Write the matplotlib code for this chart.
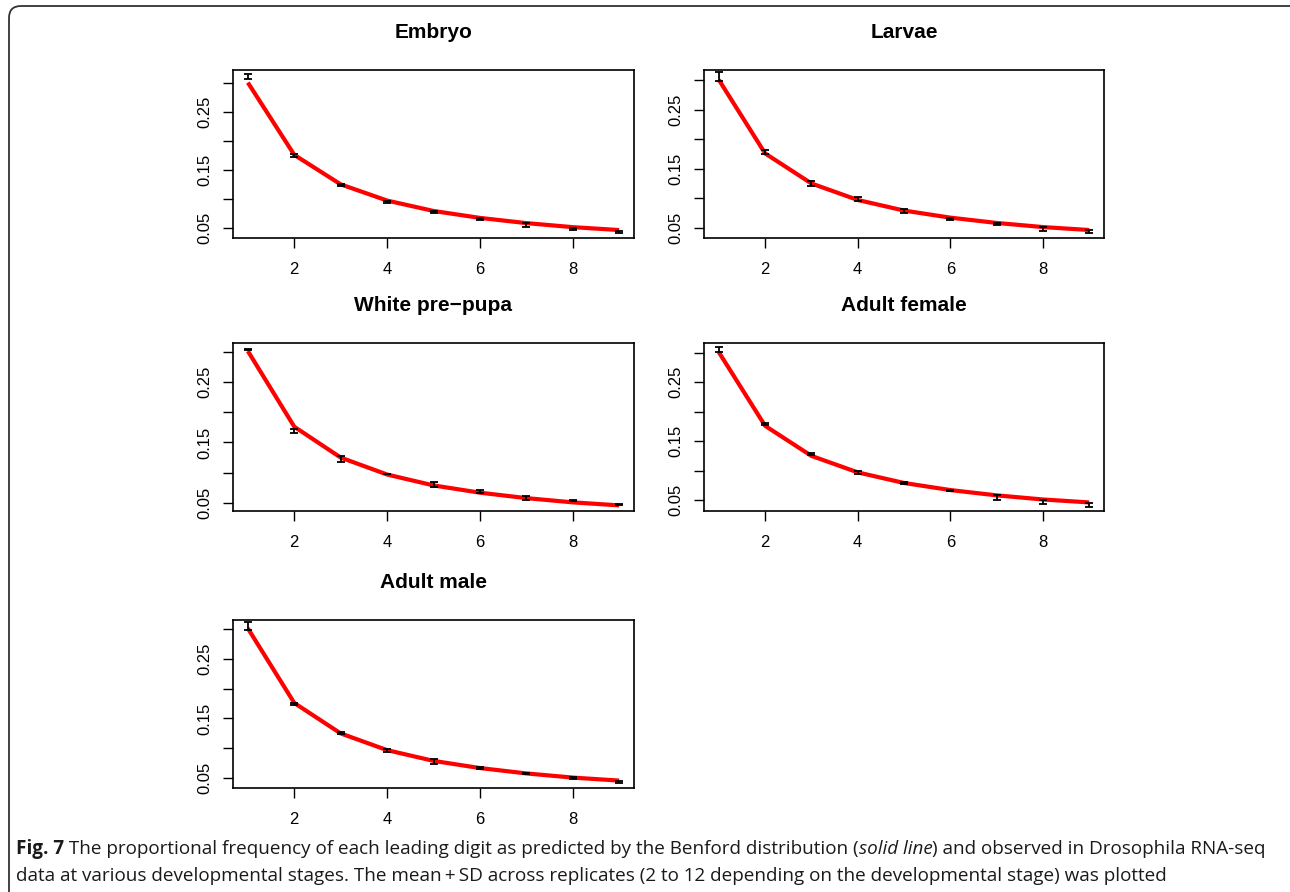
from __future__ import annotations

import matplotlib

matplotlib.use("Agg")
import matplotlib.pyplot as plt
from matplotlib.patches import FancyBboxPatch

W, H = 1290, 892

DIGITS = [1, 2, 3, 4, 5, 6, 7, 8, 9]
BENFORD = [0.301, 0.176, 0.125, 0.097, 0.079, 0.067, 0.058, 0.051, 0.046]

STAGES = ["Embryo", "Larvae", "White pre\u2212pupa", "Adult female", "Adult male"]

EMBRYO_MEAN = [0.312, 0.175, 0.124, 0.095, 0.077, 0.065, 0.055, 0.048, 0.043]
EMBRYO_SD = [0.0045, 0.003, 0.002, 0.002, 0.0018, 0.0018, 0.003, 0.0018, 0.0018]
LARVAE_MEAN = [0.307, 0.178, 0.125, 0.099, 0.078, 0.065, 0.056, 0.048, 0.043]
LARVAE_SD = [0.0075, 0.003, 0.0045, 0.003, 0.0035, 0.002, 0.0022, 0.0035, 0.0022]
PREPUPA_MEAN = [0.304, 0.169, 0.122, 0.098, 0.081, 0.069, 0.058, 0.054, 0.047]
PREPUPA_SD = [0.001, 0.004, 0.005, 0.0006, 0.004, 0.002, 0.003, 0.0015, 0.001]
FEMALE_MEAN = [0.306, 0.179, 0.128, 0.097, 0.079, 0.066, 0.054, 0.047, 0.042]
FEMALE_SD = [0.004, 0.001, 0.0023, 0.0022, 0.0012, 0.0012, 0.004, 0.003, 0.003]
MALE_MEAN = [0.3045, 0.175, 0.125, 0.096, 0.078, 0.067, 0.058, 0.051, 0.044]
MALE_SD = [0.0067, 0.0017, 0.0017, 0.0022, 0.0034, 0.0022, 0.0012, 0.0017, 0.0017]

Y_TICKS = [0.05, 0.10, 0.15, 0.20, 0.25, 0.30]
Y_TICK_LABELS = ["0.05", "", "0.15", "", "0.25", ""]
X_TICKS = [2, 4, 6, 8]

CAPTION_LINE1 = [
    ("Fig. 7", "bold", "normal"),
    (" The proportional frequency of each leading digit as predicted by the Benford distribution (", "normal", "normal"),
    ("solid line", "normal", "italic"),
    (") and observed in Drosophila RNA-seq", "normal", "normal"),
]
CAPTION_LINE2 = [
    ("data at various developmental stages. The mean\u2009+\u2009SD across replicates (2 to 12 depending on the developmental stage) was plotted",
     "normal", "normal"),
]

# panel boxes in pixels: left, top, right, bottom
PANEL_BOXES = [
    (233, 70, 634, 238),
    (704, 70, 1104, 238),
    (233, 343, 634, 511),
    (704, 343, 1104, 511),
    (233, 620, 634, 788),
]

plt.rcParams["font.family"] = ["Liberation Sans", "DejaVu Sans"]


def _px_axes(fig, box):
    left, top, right, bottom = box
    return fig.add_axes([left / W, 1 - bottom / H, (right - left) / W, (bottom - top) / H])


def _draw_panel(ax, title, mean, sd):
    ax.plot(DIGITS, BENFORD, color="red", lw=3.0, zorder=2, solid_capstyle="butt")
    ax.errorbar(DIGITS, mean, yerr=sd, fmt="none", ecolor="black",
                elinewidth=1.3, capsize=2.6, capthick=1.3, zorder=3)
    lo, hi = min(mean), max(mean)
    ext = 0.04 * (hi - lo)
    ax.set_ylim(lo - ext, hi + ext)
    ax.set_xlim(0.68, 9.32)
    ax.set_xticks(X_TICKS)
    ax.set_yticks(Y_TICKS)
    ax.set_yticklabels(Y_TICK_LABELS, rotation=90, va="center")
    ax.tick_params(axis="both", length=7, width=1.0, labelsize=12, pad=8)
    ax.tick_params(axis="x", pad=10)
    for spine in ax.spines.values():
        spine.set_linewidth(1.2)
    ax.set_title(title, fontweight="bold", fontsize=15, pad=23)


def _draw_runs(fig, renderer, x, y, runs, size):
    for text, weight, style in runs:
        t = fig.text(x / W, 1 - y / H, text, fontsize=size, fontweight=weight,
                     fontstyle=style, family=["Open Sans", "DejaVu Sans"],
                     va="center", ha="left", color="#1a1a1a")
        bb = t.get_window_extent(renderer)
        x += bb.width


def main() -> None:
    fig = plt.figure(figsize=(W / 100, H / 100), dpi=100)
    border = FancyBboxPatch((0.09, -0.5), 13.5, 8.86 + 0.5,
                            boxstyle="round,pad=0,rounding_size=0.12",
                            transform=fig.dpi_scale_trans, fill=False,
                            ec="#333333", lw=1.3)
    fig.add_artist(border)

    means = [EMBRYO_MEAN, LARVAE_MEAN, PREPUPA_MEAN, FEMALE_MEAN, MALE_MEAN]
    sds = [EMBRYO_SD, LARVAE_SD, PREPUPA_SD, FEMALE_SD, MALE_SD]
    for box, title, mean, sd in zip(PANEL_BOXES, STAGES, means, sds):
        ax = _px_axes(fig, box)
        _draw_panel(ax, title, mean, sd)

    renderer = fig.canvas.get_renderer()
    _draw_runs(fig, renderer, 16, 849, CAPTION_LINE1, 13.6)
    _draw_runs(fig, renderer, 16, 876, CAPTION_LINE2, 13.6)

    fig.savefig("out.png", dpi=100)
    plt.close(fig)


if __name__ == "__main__":
    main()
